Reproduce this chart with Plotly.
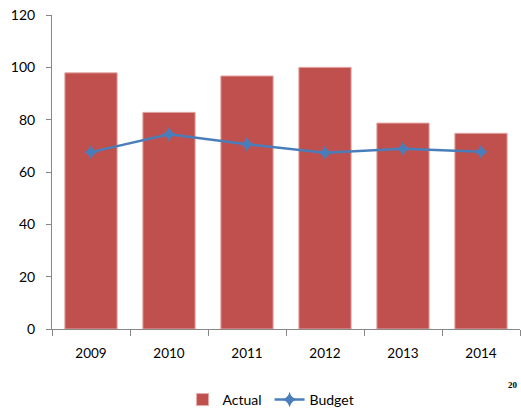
import plotly.graph_objects as go

years = ["2009", "2010", "2011", "2012", "2013", "2014"]
actual = [97.9, 82.8, 96.7, 100.0, 78.7, 74.8]
budget = [67.6, 74.4, 70.6, 67.4, 68.9, 67.7]
y_ticks = [0, 20, 40, 60, 80, 100, 120]

axis_col = "#878787"
font_fam = "Lato, 'Open Sans', sans-serif"

fig = go.Figure()
fig.add_trace(go.Bar(
    x=years, y=actual, name="Actual",
    marker=dict(color="#C0504D", line=dict(color="#E2A9A7", width=1)),
))
fig.add_trace(go.Scatter(
    x=years, y=budget, name="Budget", mode="lines+markers",
    line=dict(color="#4A7EBB", width=2.5),
    marker=dict(symbol="star-diamond", size=11, color="#4A7EBB"),
))

fig.update_layout(
    width=521, height=413,
    margin=dict(l=52, r=1, t=15, b=84, autoexpand=False),
    paper_bgcolor="white", plot_bgcolor="white",
    bargap=0.33,
    font=dict(family=font_fam, size=13.5, color="#000000"),
    showlegend=True,
    legend=dict(orientation="h", x=0.279, xanchor="left", y=-0.175, yanchor="top",
                font=dict(size=14), itemwidth=30, tracegroupgap=0,
                entrywidth=42, entrywidthmode="pixels",
                bgcolor="rgba(0,0,0,0)"),
    xaxis=dict(type="category", showline=True, linecolor=axis_col, linewidth=1,
               ticks="outside", ticklen=6, tickcolor=axis_col, tickson="boundaries",
               showgrid=False, zeroline=False, tickfont=dict(size=13.5), ticklabelstandoff=12),
    yaxis=dict(range=[0, 120], tickvals=y_ticks, showline=True, linecolor=axis_col,
               linewidth=1, ticks="outside", ticklen=5, tickcolor=axis_col,
               showgrid=False, zeroline=False, tickfont=dict(size=14), ticklabelstandoff=8),
    xaxis2=dict(overlaying="x", anchor="y", range=[-0.5, 5.5],
                tickvals=[-0.5, 0.5, 1.5, 2.5, 3.5, 4.5, 5.5],
                ticks="inside", ticklen=6, tickcolor=axis_col, showticklabels=False,
                showline=False, showgrid=False, zeroline=False, side="bottom"),
    yaxis2=dict(overlaying="y", anchor="x", range=[0, 120], tickvals=y_ticks,
                ticks="inside", ticklen=5, tickcolor=axis_col, showticklabels=False,
                showline=False, showgrid=False, zeroline=False, side="left"),
)
fig.add_annotation(text="<b>20</b>", xref="paper", yref="paper", x=1.0, y=-0.178,
                   xanchor="right", yanchor="middle", showarrow=False,
                   font=dict(size=9, family="'Liberation Serif', serif", color="#000"))

fig.write_html("out.html")
